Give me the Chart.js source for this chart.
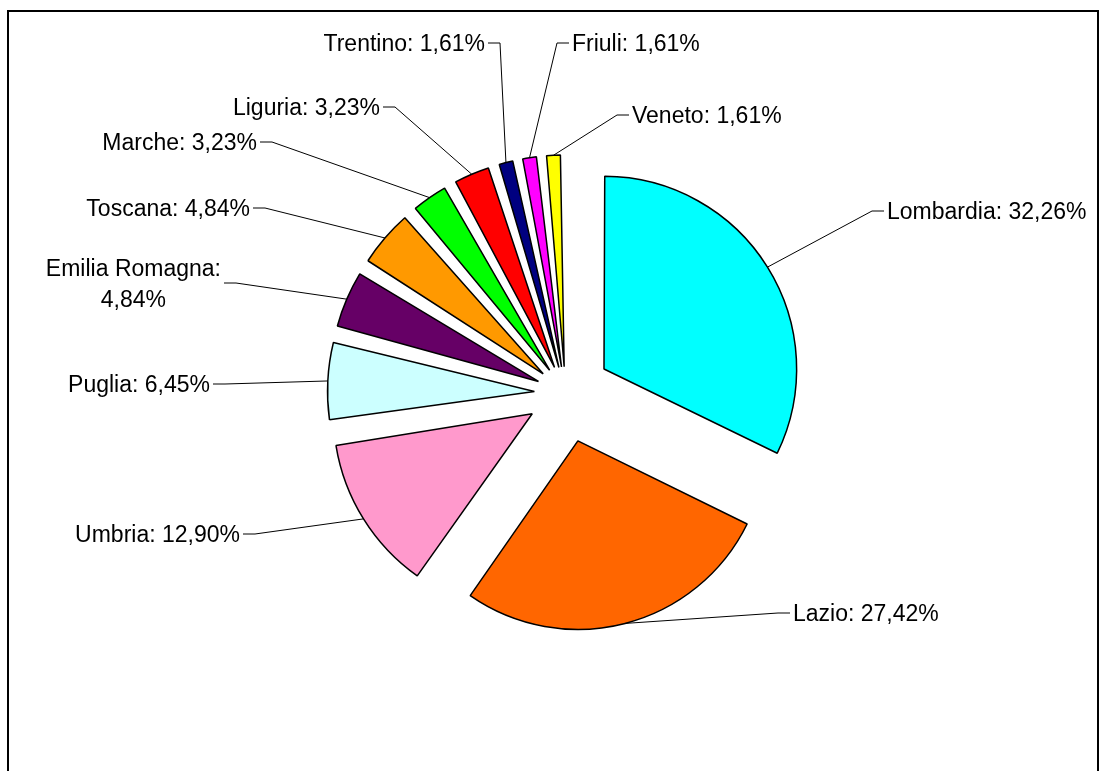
<!DOCTYPE html>
<html>
<head>
<meta charset="utf-8">
<script src="https://cdn.jsdelivr.net/npm/chart.js@4/dist/chart.umd.min.js"></script>
<style>
  html, body { margin: 0; padding: 0; background: #fff; }
  #wrap { width: 1109px; height: 771px; position: relative; }
</style>
</head>
<body>
<div id="wrap"><canvas id="pie"></canvas></div>
<script>
// data (share of 62 cases, %)
const REGIONS = ['Lombardia', 'Lazio', 'Umbria', 'Puglia', 'Emilia Romagna', 'Toscana', 'Marche', 'Liguria', 'Trentino', 'Friuli', 'Veneto'];
const SHARES = [32.26, 27.42, 12.90, 6.45, 4.84, 4.84, 3.23, 3.23, 1.61, 1.61, 1.61];
const COLORS = ['#00FFFF', '#FF6600', '#FF99CC', '#CCFFFF', '#660066', '#FF9900', '#00FF00', '#FF0000', '#000080', '#FF00FF', '#FFFF00'];

// label placement: text edge x, leader y, side of the stub the text sits on
const LABEL_AT = [
  { x: 887, y: 211, side: 'r' },
  { x: 793, y: 613, side: 'r' },
  { x: 240, y: 534, side: 'l' },
  { x: 210, y: 384, side: 'l' },
  { x: 221, y: 283, side: 'l', wrap: true },
  { x: 250, y: 208, side: 'l' },
  { x: 257, y: 142, side: 'l' },
  { x: 380, y: 107, side: 'l' },
  { x: 485, y: 43, side: 'l' },
  { x: 572, y: 43, side: 'r' },
  { x: 632, y: 115, side: 'r' },
];

const EXPLODE = 50;
const RADIUS = 188;
const FONT = '23px "Liberation Sans", Arial, sans-serif';
const TOTAL = SHARES.reduce((a, b) => a + b, 0);

const fmt = (v) => v.toFixed(2).replace('.', ',') + '%';

// Chart.js moves an arc by offset/4 * (1 + fix); pick offset so every slice moves EXPLODE px
function sliceOffset(ctx) {
  const circ = (ctx.raw / TOTAL) * Math.PI * 2;
  const fix = 1 - Math.sin(Math.min(Math.PI, circ));
  return (4 * EXPLODE) / (1 + fix);
}

const framePlugin = {
  id: 'frame',
  beforeDraw(chart) {
    const c = chart.ctx;
    c.save();
    c.fillStyle = '#fff';
    c.fillRect(0, 0, chart.width, chart.height);
    c.strokeStyle = '#000';
    c.lineWidth = 2;
    c.strokeRect(8, 11, 1090, 800);
    c.restore();
  },
};

const leaderPlugin = {
  id: 'leaders',
  afterDatasetsDraw(chart) {
    const c = chart.ctx;
    const arcs = chart.getDatasetMeta(0).data;
    c.save();
    c.font = FONT;
    c.fillStyle = '#000';
    c.strokeStyle = '#000';
    c.lineWidth = 1;
    arcs.forEach((arc, i) => {
      const pos = LABEL_AT[i];
      const h = (arc.startAngle + arc.endAngle) / 2;
      const R = arc.outerRadius + EXPLODE;
      const ax = arc.x + Math.cos(h) * R;
      const ay = arc.y + Math.sin(h) * R;
      const dir = pos.side === 'l' ? 1 : -1;
      const edge = pos.x + dir * 3;
      const elbow = edge + dir * 12;

      c.beginPath();
      c.moveTo(ax, ay);
      c.lineTo(elbow, pos.y);
      c.lineTo(edge, pos.y);
      c.stroke();

      const lines = pos.wrap
        ? [REGIONS[i] + ':', fmt(SHARES[i])]
        : [REGIONS[i] + ': ' + fmt(SHARES[i])];
      const lh = 31;
      const blockW = Math.max(...lines.map((l) => c.measureText(l).width));
      const top = pos.y - ((lines.length - 1) * lh) / 2;
      lines.forEach((line, k) => {
        const w = c.measureText(line).width;
        let tx;
        if (lines.length > 1) {
          const mid = pos.side === 'l' ? pos.x - blockW / 2 : pos.x + blockW / 2;
          tx = mid - w / 2;
        } else {
          tx = pos.side === 'l' ? pos.x - w : pos.x;
        }
        c.textAlign = 'left';
        c.textBaseline = 'alphabetic';
        c.fillText(line, tx, top + k * lh + 8);
      });
    });
    c.restore();
  },
};

new Chart(document.getElementById('pie'), {
  type: 'pie',
  data: {
    labels: REGIONS,
    datasets: [{
      data: SHARES,
      backgroundColor: COLORS,
      borderColor: '#000',
      borderWidth: 1.5,
      offset: sliceOffset,
      hoverOffset: 0,
    }],
  },
  options: {
    responsive: true,
    maintainAspectRatio: false,
    animation: false,
    events: [],
    radius: RADIUS,
    layout: { padding: { left: 22, right: 0, top: 15, bottom: 0 } },
    plugins: {
      legend: { display: false },
      tooltip: { enabled: false },
    },
  },
  plugins: [framePlugin, leaderPlugin],
});
</script>
</body>
</html>
